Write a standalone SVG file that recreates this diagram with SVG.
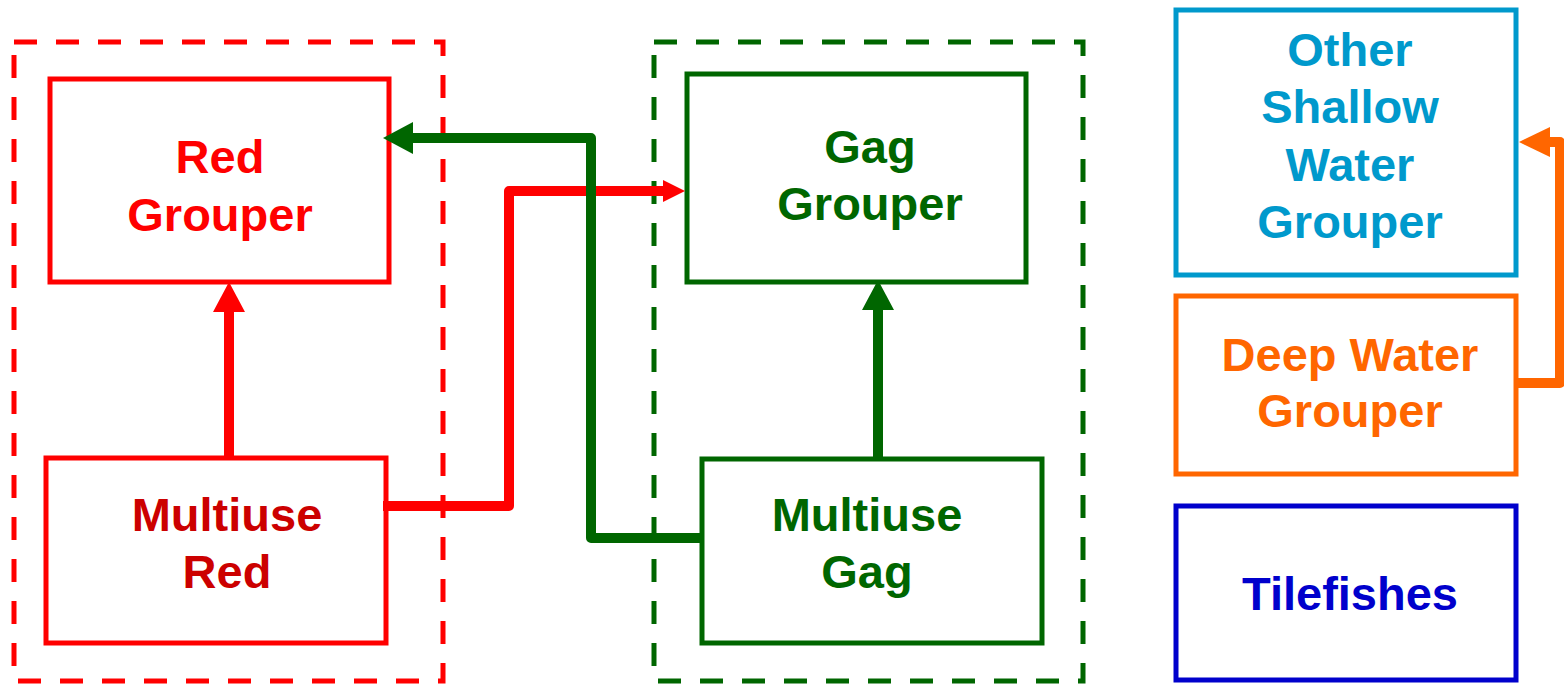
<svg xmlns="http://www.w3.org/2000/svg" width="1564" height="684" viewBox="0 0 1564 684">
<style>
  text { font-family: "Liberation Sans", Arial, sans-serif; font-weight: bold; font-size: 47px; text-anchor: middle; }
  .box { fill: #FFFFFF; stroke-width: 5; }
  .grp { fill: none; stroke-width: 5; stroke-dasharray: 23 19; }
  .conn { fill: none; stroke-width: 10; stroke-linejoin: round; }
</style>
<defs>
  <marker id="hRedBig" markerUnits="userSpaceOnUse" viewBox="0 -16 30 32" markerWidth="30" markerHeight="32" refX="0" refY="0" orient="auto"><path d="M0,-16 L30,0 L0,16 Z" fill="#FF0000"/></marker>
  <marker id="hRedSmall" markerUnits="userSpaceOnUse" viewBox="0 -11 22 22" markerWidth="22" markerHeight="22" refX="0" refY="0" orient="auto"><path d="M0,-11 L22,0 L0,11 Z" fill="#FF0000"/></marker>
  <marker id="hGreen" markerUnits="userSpaceOnUse" viewBox="0 -16 30 32" markerWidth="30" markerHeight="32" refX="0" refY="0" orient="auto"><path d="M0,-16 L30,0 L0,16 Z" fill="#006600"/></marker>
  <marker id="hOrange" markerUnits="userSpaceOnUse" viewBox="0 -15 31 30" markerWidth="31" markerHeight="30" refX="0" refY="0" orient="auto"><path d="M0,-15 L31,0 L0,15 Z" fill="#FF6600"/></marker>
</defs>
<g id="group-red"><rect class="grp" x="14" y="42" width="429" height="639" stroke="#FF0000"/></g>
<g id="group-gag"><rect class="grp" x="654" y="42" width="429" height="639" stroke="#006600"/></g>
<g id="red-grouper">
  <rect class="box" x="50" y="79" width="339" height="203" stroke="#FF0000"/>
  <text x="220" y="173" fill="#FF0000">Red</text>
  <text x="220" y="231" fill="#FF0000">Grouper</text>
</g>
<g id="multiuse-red">
  <rect class="box" x="46" y="458" width="340" height="185" stroke="#FF0000"/>
  <text x="227" y="531" fill="#CC0000">Multiuse</text>
  <text x="227" y="588" fill="#CC0000">Red</text>
</g>
<g id="gag-grouper">
  <rect class="box" x="687" y="74" width="339" height="208" stroke="#006600"/>
  <text x="870" y="163" fill="#006600">Gag</text>
  <text x="870" y="220" fill="#006600">Grouper</text>
</g>
<g id="multiuse-gag">
  <rect class="box" x="702" y="459" width="340" height="184" stroke="#006600"/>
  <text x="867" y="531" fill="#006600">Multiuse</text>
  <text x="867" y="588" fill="#006600">Gag</text>
</g>
<g id="other-shallow">
  <rect class="box" x="1176" y="10" width="340" height="265" stroke="#0099CC"/>
  <text x="1350" y="66" fill="#0099CC">Other</text>
  <text x="1350" y="123" fill="#0099CC">Shallow</text>
  <text x="1350" y="181" fill="#0099CC">Water</text>
  <text x="1350" y="238" fill="#0099CC">Grouper</text>
</g>
<g id="deep-water">
  <rect class="box" x="1176" y="296" width="340" height="178" stroke="#FF6600"/>
  <text x="1350" y="371" fill="#FF6600">Deep Water</text>
  <text x="1350" y="427" fill="#FF6600">Grouper</text>
</g>
<g id="tilefishes">
  <rect class="box" x="1176" y="506" width="340" height="174" stroke="#0000CC"/>
  <text x="1350" y="610" fill="#0000CC">Tilefishes</text>
</g>
<g id="connectors">
  <path class="conn" d="M229,458 V312" stroke="#FF0000" marker-end="url(#hRedBig)"/>
  <path class="conn" d="M383,506 H509 V191 H663" stroke="#FF0000" marker-end="url(#hRedSmall)"/>
  <path class="conn" d="M700,538 H591 V138 H413" stroke="#006600" marker-end="url(#hGreen)"/>
  <path class="conn" d="M878,459 V310" stroke="#006600" marker-end="url(#hGreen)"/>
  <path class="conn" d="M1516,383 H1560 V142 H1550" stroke="#FF6600" stroke-width="7" marker-end="url(#hOrange)"/>
</g>
</svg>
